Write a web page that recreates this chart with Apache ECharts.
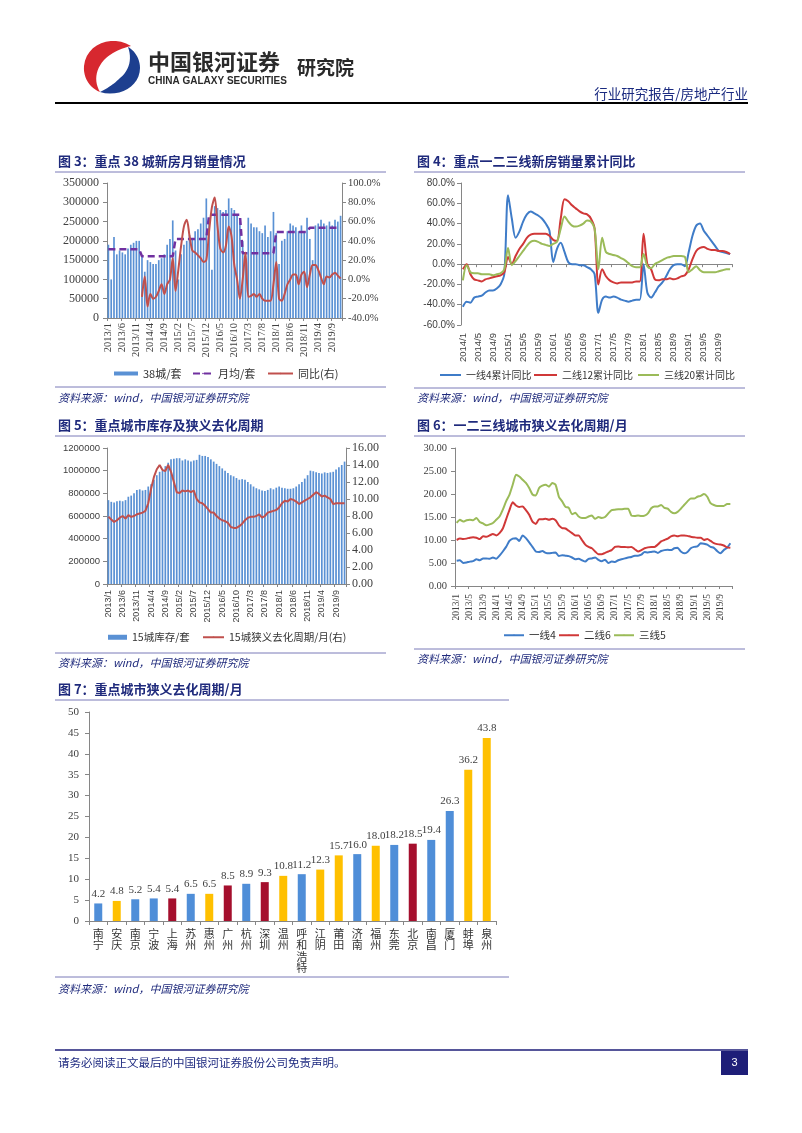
<!DOCTYPE html>
<html><head><meta charset="utf-8">
<script src="https://cdn.jsdelivr.net/npm/echarts/dist/echarts.min.js"></script>
<style>html,body{margin:0;padding:0;background:#fff;}#c{width:802px;height:1133px;}</style>
</head><body><div id="c"></div>
<script>
// ---------- categories ----------
const months84 = (function(){const a=[];for(let y=2013;y<=2019;y++)for(let m=1;m<=12;m++)a.push(y+'/'+m);return a;})();
const months72 = months84.slice(12);

// ---------- Fig 3: 38 cities monthly sales ----------
const sales38 = [
 190000,100000,210000,165000,175000,170000,165000,180000,190000,195000,200000,200000,
 160000,120000,150000,145000,140000,140000,150000,155000,165000,190000,205000,253000,
 175000,100000,165000,190000,200000,215000,205000,225000,230000,245000,260000,310000,
 260000,125000,290000,285000,280000,275000,280000,310000,285000,280000,265000,250000,
 200000,155000,260000,245000,235000,235000,225000,220000,240000,210000,225000,275000,
 220000,140000,200000,205000,225000,245000,240000,235000,225000,240000,225000,260000,
 205000,150000,240000,245000,255000,245000,240000,250000,240000,255000,250000,265000];
const avgByYear38 = [178000,160000,205000,268000,168000,223000,234000];
const yoy38 = [
 -18,3,-28,-15,-20,-18,-12,-5,-15,-5,0,22,
 -12,10,35,55,62,45,30,28,25,22,18,20,
 50,75,85,55,32,28,35,55,45,15,0,-20,
 0,28,-18,-17,-15,-18,-15,-20,-22,-22,-22,-5,
 18,-20,-22,-15,-5,0,5,5,-5,5,8,-8,
 5,15,15,10,2,-5,3,2,5,7,4,1];

// ---------- Fig 4: cumulative YoY by tier ----------
const tier1Cum = [
 -42,-37,-38,-33,-32,-31,-28,-26,-26,-24,-20,-10,
 68,45,26,32,42,49,52,50,48,45,40,33,
 2,15,21,12,2,0,0,-1,-1,-3,-5,-10,
 -48,-35,-32,-33,-32,-33,-35,-36,-37,-36,-35,-35,
 0,-28,-33,-28,-22,-18,-12,-5,-1,0,0,-2,
 12,28,38,40,33,28,23,18,13,12,11,10];
const tier2Cum = [
 -5,0,-10,-15,-16,-17,-15,-14,-13,-12,-11,-8,
 7,0,8,15,20,26,29,30,30,30,30,28,
 24,23,45,64,62,58,55,52,50,49,45,35,
 -20,-5,-12,-16,-18,-19,-18,-18,-18,-18,-17,-17,
 30,0,-5,-15,-16,-15,-15,-14,-15,-14,-12,-11,
 -5,5,13,16,17,15,14,14,13,13,12,10];
const tier3Cum = [
 -16,-1,-8,-9,-9,-10,-10,-10,-11,-10,-9,-5,
 16,-1,3,8,13,18,22,23,22,20,19,18,
 20,22,35,47,42,38,37,38,40,43,42,35,
 -5,26,12,10,9,8,6,4,1,-2,-3,-3,
 10,-2,-4,0,2,4,6,7,8,8,8,7,
 -8,-5,-2,-6,-8,-8,-8,-8,-7,-6,-5,-5];

// ---------- Fig 5: 15 cities inventory & cycle ----------
const inv15 = [
 740000,725000,720000,730000,735000,730000,740000,770000,780000,800000,830000,835000,
 825000,830000,860000,880000,920000,960000,990000,1000000,1040000,1070000,1100000,1105000,
 1110000,1110000,1090000,1100000,1090000,1080000,1090000,1095000,1140000,1130000,1130000,1120000,
 1100000,1080000,1060000,1040000,1020000,1000000,980000,960000,950000,935000,920000,925000,
 920000,900000,880000,860000,845000,835000,825000,820000,830000,845000,835000,850000,
 860000,850000,845000,840000,840000,845000,860000,880000,900000,930000,960000,1000000,
 995000,985000,980000,975000,985000,980000,985000,990000,1010000,1030000,1050000,1080000];
const cycle15 = [
 7.9,7.6,7.3,7.5,7.8,8.0,7.7,8.1,7.9,8.0,8.2,8.3,
 8.4,8.6,9.5,11.2,12.6,13.5,14.0,13.4,13.3,14.0,13.2,12.0,
 10.8,10.7,11.0,10.9,11.0,10.8,11.0,10.0,9.6,9.5,9.2,8.8,
 8.4,8.4,8.0,7.7,7.5,7.4,7.2,6.7,6.6,6.6,6.8,7.1,
 7.5,7.8,7.9,7.9,8.0,8.2,7.8,8.0,8.4,8.5,8.6,8.7,
 9.0,9.5,9.8,9.7,10.0,9.9,9.7,9.4,9.6,9.8,10.0,10.2,
 10.5,10.8,10.6,10.3,10.4,10.2,10.0,9.4,9.5,9.5,9.5,9.5];

// ---------- Fig 6: cycle by tier ----------
const tier1Cycle = [
 5.5,5.6,5.0,5.1,5.3,5.4,5.8,5.6,6.0,6.0,5.9,6.2,5.9,6.6,7.5,8.5,9.8,10.3,10.4,9.8,
 11.0,10.4,9.5,8.5,7.5,7.4,7.6,7.2,7.1,7.2,7.3,6.5,6.7,6.6,6.5,6.2,5.8,5.9,5.6,5.3,
 5.9,6.0,6.2,5.7,5.4,5.7,5.0,5.3,5.2,5.6,5.8,6.0,6.2,6.3,6.6,6.6,6.8,7.4,7.3,7.4,
 7.5,7.2,7.6,7.8,7.9,7.8,8.2,8.3,7.5,7.1,7.4,8.2,8.5,8.6,9.3,9.2,9.0,8.5,8.3,7.6,
 7.1,7.8,8.3,9.3];
const tier2Cycle = [
 10.0,10.3,10.2,10.3,10.5,10.6,10.5,10.2,10.8,10.7,11.0,11.3,11.0,11.5,12.5,14.5,16.5,18.2,17.5,17.2,
 17.3,16.5,15.5,14.0,13.5,14.5,14.5,14.6,14.4,14.6,14.3,13.2,12.6,12.5,12.0,11.5,11.0,11.0,10.0,9.0,
 8.5,8.2,7.5,6.9,6.9,7.2,7.5,7.8,8.5,8.6,8.5,8.5,8.4,8.5,8.0,7.5,7.8,8.2,8.4,8.5,
 8.5,9.0,9.7,10.0,10.3,10.8,11.0,10.8,11.0,11.0,10.9,10.7,10.6,10.5,10.5,10.0,10.2,9.8,9.3,9.1,
 9.0,8.8,8.4,8.3];
const tier3Cycle = [
 13.7,14.4,14.0,14.3,14.4,14.3,14.8,13.9,13.6,13.2,13.4,13.7,14.4,15.1,16.6,18.4,19.8,22.0,24.2,23.8,
 23.1,22.4,21.3,19.9,19.7,21.3,21.8,22.0,21.6,22.4,22.0,19.4,18.4,17.2,17.0,15.6,15.9,15.1,14.8,14.8,
 15.1,15.3,14.6,15.0,14.8,15.0,15.8,16.5,16.6,16.7,16.7,16.8,16.8,15.3,15.2,15.3,15.2,15.3,15.8,16.9,
 17.3,17.3,17.6,17.0,16.8,16.1,15.8,16.1,16.8,17.6,18.4,19.0,19.0,19.4,19.6,20.0,19.4,18.0,17.6,17.4,
 17.4,17.4,17.8,17.8];

// ---------- Fig 7: city cycles ----------
const cities7 = ['南宁','安庆','南京','宁波','上海','苏州','惠州','广州','杭州','深圳','温州','呼和浩特','江阴','莆田','济南','福州','东莞','北京','南昌','厦门','蚌埠','泉州'];
const cycles7 = [4.2,4.8,5.2,5.4,5.4,6.5,6.5,8.5,8.9,9.3,10.8,11.2,12.3,15.7,16.0,18.0,18.2,18.5,19.4,26.3,36.2,43.8];
const tiers7  = [2,3,2,2,1,2,3,1,2,1,3,2,3,3,2,3,2,1,2,2,3,3];

// ---------- styling ----------
const SERIF = '"Liberation Serif","Noto Sans CJK SC",serif';
const SANS = '"Liberation Sans","Noto Sans CJK SC",sans-serif';
const CJK = '"Noto Sans CJK SC",sans-serif';
const AX = '#868686', LBL = '#404040';
const BLUE = '#5A91D4', RED = '#C0504D', GREEN = '#9BBB59', PURPLE = '#7030A0';
const NAVY = '#1F2A7C';
const tierColor = {1:'#A50F2D',2:'#4F8ED8',3:'#FFC000'};

function T(x,y,text,font,fill,align,valign){return {type:'text',x:x,y:y,silent:true,style:{text:text,font:font,fill:fill,textAlign:align||'left',textVerticalAlign:valign||'middle',align:align||'left',verticalAlign:valign||'middle'}};}
function Ln(x1,y1,x2,y2,stroke,w){return {type:'line',silent:true,shape:{x1:x1,y1:y1,x2:x2,y2:y2},style:{stroke:stroke,lineWidth:w}};}
function curvePoly(start, segs){
  const pts=[start.slice()]; let p0=start;
  segs.forEach(function(s){
    for(let k=1;k<=12;k++){const t=k/12,u=1-t;
      pts.push([u*u*u*p0[0]+3*u*u*t*s[0]+3*u*t*t*s[2]+t*t*t*s[4], u*u*u*p0[1]+3*u*u*t*s[1]+3*u*t*t*s[3]+t*t*t*s[5]]);}
    p0=[s[4],s[5]];
  });
  return pts;
}
const logoRed = curvePoly([131,46],[[112,34,86,44,84,66],[83,78,90,88,100,92],[94,82,95,70,104,60],[112,52,122,48,131,46]]);
const logoBlue = curvePoly([100,92],[[120,98,140,86,140,68],[140,58,134,50,128,47],[132,58,130,70,120,78],[114,84,108,88,100,92]]);

const TITLEF = 'bold 13px "Noto Sans CJK SC"';
const SRCF = 'italic 11px "Noto Sans CJK SC"';
const SRC = '资料来源：wind，中国银河证券研究院';
const SEP = '#7A7AB8';

const graphics = [
  {type:'polygon',silent:true,shape:{points:logoRed},style:{fill:'#D7282F'}},
  {type:'polygon',silent:true,shape:{points:logoBlue},style:{fill:'#1D3F8F'}},
  T(148,62,'中国银河证券','bold 22px "Noto Sans CJK SC"','#2A2A2A'),
  T(148,81,'CHINA GALAXY SECURITIES','bold 10px "Liberation Sans"','#2A2A2A'),
  T(297,68,'研究院','bold 19px "Noto Sans CJK SC"','#2A2A2A'),
  T(748,94,'行业研究报告/房地产行业','13.5px "Noto Sans CJK SC"','#1A2A80','right'),
  Ln(55,103,748,103,'#000',2),
  T(58,161,'图 3：重点 38 城新房月销量情况',TITLEF,NAVY),
  Ln(55,172,386,172,SEP,1),
  Ln(55,387,386,387,SEP,1),
  T(58,398,SRC,SRCF,NAVY),
  T(417,161,'图 4：重点一二三线新房销量累计同比',TITLEF,NAVY),
  Ln(414,172,745,172,SEP,1),
  Ln(414,388,745,388,SEP,1),
  T(417,398,SRC,SRCF,NAVY),
  T(58,425,'图 5：重点城市库存及狭义去化周期',TITLEF,NAVY),
  Ln(55,436,386,436,SEP,1),
  Ln(55,653,386,653,SEP,1),
  T(58,663,SRC,SRCF,NAVY),
  T(417,425,'图 6：一二三线城市狭义去化周期/月',TITLEF,NAVY),
  Ln(414,436,745,436,SEP,1),
  Ln(414,649,745,649,SEP,1),
  T(417,659,SRC,SRCF,NAVY),
  T(58,689,'图 7：重点城市狭义去化周期/月',TITLEF,NAVY),
  Ln(55,700,509,700,SEP,1),
  Ln(55,977,509,977,SEP,1),
  T(58,989,SRC,SRCF,NAVY),
  Ln(55,1050,748,1050,'#1E1E78',1.5),
  T(58,1063,'请务必阅读正文最后的中国银河证券股份公司免责声明。','11.5px "Noto Sans CJK SC"','#1E2A80'),
  {type:'rect',silent:true,shape:{x:721,y:1051,width:27,height:24},style:{fill:'#1E1E78'}},
  T(734.5,1063,'3','11px "Liberation Sans"','#fff','center')
];

function catAxis(grid, data, interval, font, size, margin){
  return {type:'category',gridIndex:grid,position:'bottom',data:data,boundaryGap:true,
    axisLine:{show:true,onZero:false,lineStyle:{color:AX}},
    axisTick:{show:true,interval:interval,length:3,lineStyle:{color:AX}},
    axisLabel:{interval:interval,rotate:90,fontFamily:font,fontSize:size,color:LBL,margin:margin},
    splitLine:{show:false}};
}
const plain = function(v){return String(v);};
function valAxis(grid,pos,min,max,step,fmt,font,size,margin){
  return {type:'value',gridIndex:grid,position:pos,min:min,max:max,interval:step,
    axisLine:{show:true,lineStyle:{color:AX}},
    axisTick:{show:true,length:4,lineStyle:{color:AX}},
    axisLabel:{formatter:fmt||plain,fontFamily:font,fontSize:size,color:LBL,margin:margin},
    splitLine:{show:false}};
}
function legendItem(name,left,cy,w,h,icon,fs){
  const d = icon ? {name:name,icon:icon} : {name:name};
  return {data:[d],left:left,top:cy-6,itemWidth:w,itemHeight:h,padding:0,itemGap:0,
    textStyle:{fontFamily:CJK,fontSize:fs||10.5,color:'#333'}};
}
const pct1 = function(v){return v.toFixed(1)+'%';};
const fix2 = function(v){return v.toFixed(2);};

const ax1 = catAxis(1,months72,3,SANS,9.5,8);
ax1.axisLine = {show:true,onZero:true,lineStyle:{color:AX}};
ax1.axisLabel = {show:false};
const ax2 = catAxis(1,months72,3,SANS,9.5,8);
ax2.axisLine = {show:false,onZero:false};
ax2.axisTick = {show:false};

const option = {
  animation:false,
  backgroundColor:'#fff',
  graphic:graphics,
  grid:[
    {left:107,top:183,width:235,height:135},
    {left:461,top:183,width:271,height:142},
    {left:107,top:448,width:239,height:136},
    {left:455,top:448,width:277,height:138},
    {left:89,top:712,width:407,height:209}
  ],
  xAxis:[
    catAxis(0,months84,4,SERIF,10.5,5),
    ax1, ax2,
    catAxis(2,months84,4,SANS,9,6),
    catAxis(3,months84,3,SERIF,9.5,8),
    {type:'category',gridIndex:4,position:'bottom',data:cities7,
      axisLine:{show:true,lineStyle:{color:AX}},
      axisTick:{show:true,length:4,lineStyle:{color:AX}},
      axisLabel:{interval:0,fontFamily:CJK,fontSize:11,color:'#333',margin:7,lineHeight:11.5,
        formatter:function(v){return v.split('').join('\n');}}}
  ],
  yAxis:[
    valAxis(0,'left',0,350000,50000,null,SERIF,12,8),
    valAxis(0,'right',-40,100,20,pct1,SERIF,10.5,6),
    valAxis(1,'left',-60,80,20,pct1,SANS,10,6),
    valAxis(2,'left',0,1200000,200000,null,SANS,9.5,7),
    valAxis(2,'right',0,16,2,fix2,SERIF,12,6),
    valAxis(3,'left',0,30,5,fix2,SERIF,10.5,8),
    valAxis(4,'left',0,50,5,null,SERIF,11,10)
  ],
  legend:[
    legendItem('38城/套',114,374,24,4,'rect',11),
    legendItem('月均/套',192,374,20,2,null,11),
    legendItem('同比(右)',267,374,25,2,null,11),
    legendItem('一线4累计同比',439,376,21,2,null,10),
    legendItem('二线12累计同比',533,376,23,2,null,10),
    legendItem('三线20累计同比',637,376,21,2,null,10),
    legendItem('15城库存/套',108,638,19,5,'rect',10.5),
    legendItem('15城狭义去化周期/月(右)',202,638,21,2,null,10.5),
    legendItem('一线4',503,636,20,2,null,10.5),
    legendItem('二线6',558,636,20,2,null,10.5),
    legendItem('三线5',613,636,20,2,null,10.5)
  ],
  series:[
    {name:'38城/套',type:'bar',xAxisIndex:0,yAxisIndex:0,data:sales38,barCategoryGap:'40%',itemStyle:{color:BLUE}},
    {name:'月均/套',type:'line',xAxisIndex:0,yAxisIndex:0,symbol:'none',
      data:months84.map(function(m,i){return avgByYear38[Math.floor(i/12)];}),
      lineStyle:{color:PURPLE,width:2.5,type:[7,4]},itemStyle:{color:PURPLE}},
    {name:'同比(右)',type:'line',xAxisIndex:0,yAxisIndex:1,symbol:'none',smooth:0.3,
      data:new Array(12).fill(null).concat(yoy38),lineStyle:{color:RED,width:2},itemStyle:{color:RED}},

    {name:'一线4累计同比',type:'line',xAxisIndex:1,yAxisIndex:2,symbol:'none',smooth:0.3,data:tier1Cum,lineStyle:{color:'#3F7CC8',width:2},itemStyle:{color:'#3F7CC8'}},
    {name:'二线12累计同比',type:'line',xAxisIndex:1,yAxisIndex:2,symbol:'none',smooth:0.3,data:tier2Cum,lineStyle:{color:'#D03838',width:2},itemStyle:{color:'#D03838'}},
    {name:'三线20累计同比',type:'line',xAxisIndex:1,yAxisIndex:2,symbol:'none',smooth:0.3,data:tier3Cum,lineStyle:{color:GREEN,width:2},itemStyle:{color:GREEN}},

    {name:'15城库存/套',type:'bar',xAxisIndex:3,yAxisIndex:3,data:inv15,barCategoryGap:'40%',itemStyle:{color:BLUE}},
    {name:'15城狭义去化周期/月(右)',type:'line',xAxisIndex:3,yAxisIndex:4,symbol:'none',data:cycle15,lineStyle:{color:RED,width:2},itemStyle:{color:RED}},

    {name:'一线4',type:'line',xAxisIndex:4,yAxisIndex:5,symbol:'none',smooth:0.2,data:tier1Cycle,lineStyle:{color:'#3F7CC8',width:2},itemStyle:{color:'#3F7CC8'}},
    {name:'二线6',type:'line',xAxisIndex:4,yAxisIndex:5,symbol:'none',smooth:0.2,data:tier2Cycle,lineStyle:{color:'#D03838',width:2},itemStyle:{color:'#D03838'}},
    {name:'三线5',type:'line',xAxisIndex:4,yAxisIndex:5,symbol:'none',smooth:0.2,data:tier3Cycle,lineStyle:{color:GREEN,width:2},itemStyle:{color:GREEN}},

    {name:'去化周期',type:'bar',xAxisIndex:5,yAxisIndex:6,barWidth:8,
      data:cycles7.map(function(v,i){return {value:v,itemStyle:{color:tierColor[tiers7[i]]}};}),
      label:{show:true,position:'top',distance:4,fontFamily:SERIF,fontSize:11,color:'#404040',
        formatter:function(p){return p.value.toFixed(1);}}}
  ]
};
echarts.init(document.getElementById('c'),null,{renderer:'canvas'}).setOption(option);
</script></body></html>
